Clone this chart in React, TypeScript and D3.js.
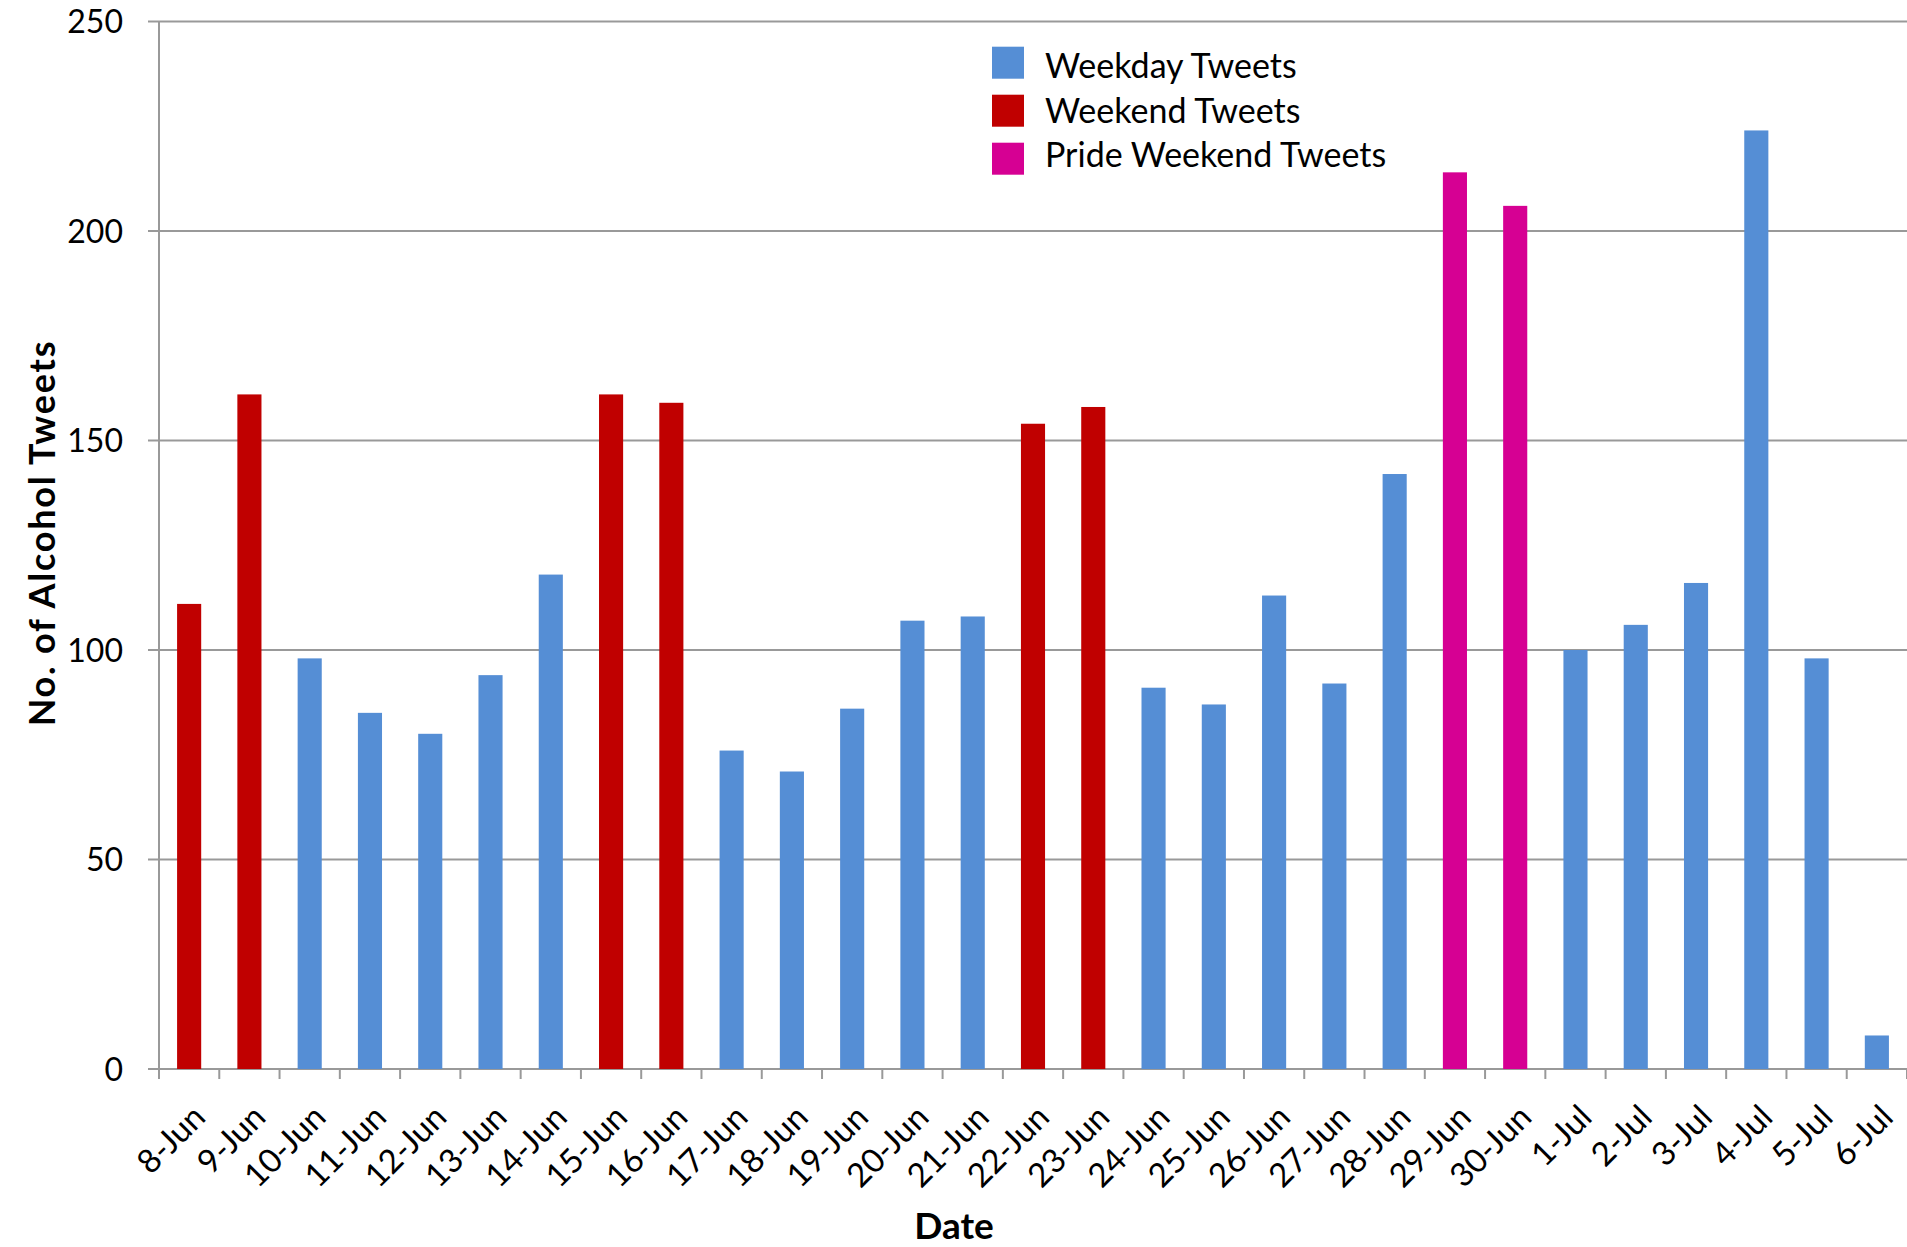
import React from "react";
import * as d3 from "d3";

const dates = ["8-Jun","9-Jun","10-Jun","11-Jun","12-Jun","13-Jun","14-Jun","15-Jun","16-Jun","17-Jun","18-Jun","19-Jun","20-Jun","21-Jun","22-Jun","23-Jun","24-Jun","25-Jun","26-Jun","27-Jun","28-Jun","29-Jun","30-Jun","1-Jul","2-Jul","3-Jul","4-Jul","5-Jul","6-Jul"];
const tweets = [111,161,98,85,80,94,118,161,159,76,71,86,107,108,154,158,91,87,113,92,142,214,206,100,106,116,224,98,8];
const dayType = ["weekend","weekend","weekday","weekday","weekday","weekday","weekday","weekend","weekend","weekday","weekday","weekday","weekday","weekday","weekend","weekend","weekday","weekday","weekday","weekday","weekday","pride","pride","weekday","weekday","weekday","weekday","weekday","weekday"];
const yTicks = [0, 50, 100, 150, 200, 250];
const legendKeys = ["weekday", "weekend", "pride"];
const legendLabels = ["Weekday Tweets", "Weekend Tweets", "Pride Weekend Tweets"];
const colors: Record<string, string> = { weekday: "#558ED5", weekend: "#C00000", pride: "#D60093" };

const W = 1907, H = 1247;
const FONT = "Lato, 'Open Sans', sans-serif";

export default function App() {
  const x = d3.scaleBand<string>().domain(dates).range([159, 1907]).paddingInner(0.6).paddingOuter(0.3);
  const y = d3.scaleLinear().domain([0, 250]).range([1069, 21.5]);
  const step = x.step();
  const x0 = x.range()[0];
  const boundaries = d3.range(dates.length + 1).map((i) => x0 + i * step);
  const grid = "#999999";

  return (
    <svg width={W} height={H} style={{ position: "absolute", left: 0, top: 0, background: "#fff" }}>
      <rect x={0} y={0} width={W} height={H} fill="#fff" />
      {yTicks.map((t) => (
        <line key={"g" + t} x1={148} x2={W} y1={y(t)} y2={y(t)} stroke={grid} strokeWidth={2} />
      ))}
      <line x1={159} x2={159} y1={y(250)} y2={y(0)} stroke={grid} strokeWidth={2} />
      {yTicks.map((t) => (
        <text key={"yl" + t} x={123} y={y(t)} dy="0.36em" textAnchor="end" fontFamily={FONT} fontSize={32} fill="#000">
          {t}
        </text>
      ))}
      {dates.map((d, i) => (
        <rect key={d} x={x(d)} y={y(tweets[i])} width={x.bandwidth()} height={y(0) - y(tweets[i])} fill={colors[dayType[i]]} />
      ))}
      {boundaries.map((b, i) => (
        <line key={"t" + i} x1={b} x2={b} y1={y(0)} y2={y(0) + 10} stroke={grid} strokeWidth={2} />
      ))}
      {dates.map((d) => {
        const cx = (x(d) as number) + x.bandwidth() / 2;
        return (
          <g key={"xl" + d} transform={`translate(${cx},${1101}) rotate(-45)`}>
            <text x={0} y={0} dy="0.78em" textAnchor="end" fontFamily={FONT} fontSize={33} fill="#000">
              {d}
            </text>
          </g>
        );
      })}
      <text x={954} y={1239} textAnchor="middle" fontFamily={FONT} fontWeight="bold" fontSize={37} fill="#000">
        Date
      </text>
      <text transform={`translate(55,533) rotate(-90)`} textAnchor="middle" fontFamily={FONT} fontWeight="bold" fontSize={36} letterSpacing={1.8} fill="#000">
        No. of Alcohol Tweets
      </text>
      {legendKeys.map((k, i) => (
        <rect key={"lr" + k} x={992} y={46.7 + i * 48} width={32} height={32} fill={colors[k]} />
      ))}
      {legendLabels.map((lab, i) => (
        <text key={"lt" + i} x={1045} y={78.3 + i * 44.5} fontFamily={FONT} fontSize={34} fill="#000">
          {lab}
        </text>
      ))}
    </svg>
  );
}
